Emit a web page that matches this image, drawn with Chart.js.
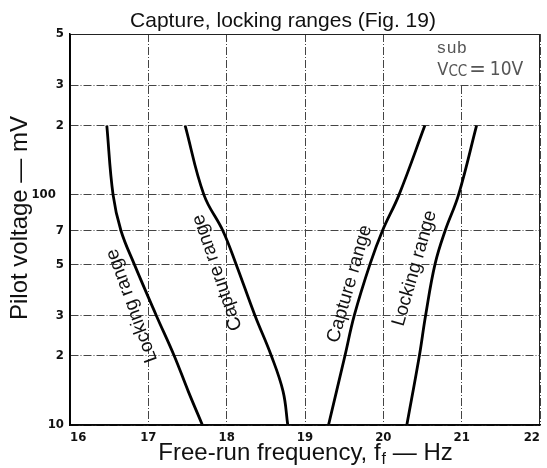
<!DOCTYPE html>
<html>
<head>
<meta charset="utf-8">
<script src="https://cdn.jsdelivr.net/npm/chart.js@4.4.1/dist/chart.umd.min.js"></script>
<style>
  html, body { margin: 0; padding: 0; background: #fff; }
</style>
</head>
<body>
<canvas id="chart" width="547" height="468"></canvas>
<script>
// curves, top (200 mV) to bottom (10 mV)
const lockLeftX = [16.47, 16.55, 16.65, 16.82, 17.10, 17.33, 17.51, 17.69];
const lockLeftY = [200, 100, 70, 50, 30, 20, 14, 10];
const capLeftX = [17.47, 17.71, 17.95, 18.12, 18.36, 18.57, 18.72, 18.78];
const capLeftY = [200, 100, 70, 50, 30, 20, 14, 10];
const capRightX = [20.53, 20.20, 19.99, 19.83, 19.63, 19.51, 19.30];
const capRightY = [200, 100, 70, 50, 30, 20, 10];
const lockRightX = [21.19, 20.96, 20.79, 20.66, 20.54, 20.46, 20.30];
const lockRightY = [200, 100, 70, 50, 30, 20, 10];

const yTickValues = [10, 20, 30, 50, 70, 100, 200, 300, 500];
const yTickLabels = ["10", "2", "3", "5", "7", "100\u2007", "2", "3", "5"];
const xTickValues = [16, 17, 18, 19, 20, 21, 22];

const narrow = '"Liberation Sans Narrow", "Arial Narrow", "DejaVu Sans Condensed", "Liberation Sans", sans-serif';
const sans = '"Liberation Sans", Arial, sans-serif';

const toPoints = (xs, ys) => xs.map((v, i) => ({ x: v, y: ys[i] }));

const curveLabels = [
  { text: "Locking range", x: 16.79, y: 33, angle: -110 },
  { text: "Capture range", x: 17.88, y: 46, angle: -109 },
  { text: "Capture range", x: 19.57, y: 41, angle: -74 },
  { text: "Locking range", x: 20.40, y: 48, angle: -74 },
];

const decorations = {
  id: "decorations",
  beforeDatasetsDraw(chart) {
    const { ctx, scales: { x, y }, chartArea: a } = chart;
    // boxed note in the top right cell
    const bx = x.getPixelForValue(20);
    const by = y.getPixelForValue(300);
    ctx.save();
    ctx.fillStyle = "#fff";
    ctx.fillRect(bx + 1, a.top + 1, a.right - bx - 2, by - a.top - 2);
    ctx.restore();
  },
  afterDraw(chart) {
    const { ctx, scales: { x, y }, chartArea: a } = chart;
    ctx.save();
    // frame
    ctx.strokeStyle = "#222";
    ctx.lineWidth = 1;
    ctx.strokeRect(a.left + 0.5, a.top + 0.5, a.right - a.left - 1, a.bottom - a.top - 1);
    ctx.strokeStyle = "#000";
    ctx.lineWidth = 1.5;
    ctx.beginPath();
    ctx.moveTo(a.left, a.top);
    ctx.lineTo(a.left, a.bottom);
    ctx.lineTo(a.right, a.bottom);
    ctx.stroke();

    ctx.fillStyle = "#111";
    // title
    ctx.font = "21px " + sans;
    ctx.textAlign = "center";
    ctx.textBaseline = "alphabetic";
    ctx.fillText("Capture, locking ranges (Fig. 19)", 283, 27);

    // y axis title
    ctx.save();
    ctx.translate(27, 218);
    ctx.rotate(-Math.PI / 2);
    ctx.font = "24px " + sans;
    ctx.fillText("Pilot voltage \u2014 mV", 0, 0);
    ctx.restore();

    // x axis title with subscript
    const big = "24px " + sans, small = "16px " + sans;
    const p1 = "Free-run frequency, f", p2 = "f", p3 = " \u2014 Hz";
    ctx.font = big; const w1 = ctx.measureText(p1).width, w3 = ctx.measureText(p3).width;
    ctx.font = small; const w2 = ctx.measureText(p2).width;
    let sx = (a.left + a.right) / 2 - (w1 + w2 + w3) / 2;
    const base = 460;
    ctx.textAlign = "left";
    ctx.font = big; ctx.fillText(p1, sx, base); sx += w1;
    ctx.font = small; ctx.fillText(p2, sx + 1, base + 4); sx += w2 + 1;
    ctx.font = big; ctx.fillText(p3, sx, base);

    // curve labels
    ctx.font = "19px " + sans;
    ctx.textAlign = "center";
    ctx.textBaseline = "middle";
    curveLabels.forEach(l => {
      ctx.save();
      ctx.translate(x.getPixelForValue(l.x), y.getPixelForValue(l.y));
      ctx.rotate(l.angle * Math.PI / 180);
      ctx.fillText(l.text, 0, 0);
      ctx.restore();
    });

    // note
    const bx = x.getPixelForValue(20);
    ctx.fillStyle = "#555";
    ctx.textAlign = "left";
    ctx.textBaseline = "alphabetic";
    ctx.font = "17px \"Liberation Mono\", monospace";
    ctx.fillText("sub", bx + 53, a.top + 19);
    let vx = bx + 54;
    ctx.font = "18px " + narrow;
    ctx.fillText("V", vx, a.top + 41); vx += ctx.measureText("V").width;
    ctx.font = "15px " + narrow;
    ctx.fillText("CC", vx, a.top + 42); vx += ctx.measureText("CC").width + 2;
    ctx.font = "22px " + narrow;
    ctx.fillText("=", vx, a.top + 42); vx += ctx.measureText("=").width + 4;
    ctx.font = "19px " + narrow;
    ctx.fillText("10V", vx, a.top + 41);
    ctx.restore();
  },
};

const lineStyle = { borderColor: "#000", borderWidth: 2.8, pointRadius: 0, showLine: true, tension: 0.4, fill: false };

new Chart(document.getElementById("chart"), {
  type: "scatter",
  data: {
    datasets: [
      { ...lineStyle, label: "Locking range (low)", data: toPoints(lockLeftX, lockLeftY) },
      { ...lineStyle, label: "Capture range (low)", data: toPoints(capLeftX, capLeftY) },
      { ...lineStyle, label: "Capture range (high)", data: toPoints(capRightX, capRightY) },
      { ...lineStyle, label: "Locking range (high)", data: toPoints(lockRightX, lockRightY) },
    ],
  },
  options: {
    responsive: false,
    animation: false,
    devicePixelRatio: 1,
    layout: { padding: { left: 0, right: 7, top: 34, bottom: 0 } },
    scales: {
      x: {
        type: "linear",
        min: 16,
        max: 22,
        afterBuildTicks: s => { s.ticks = xTickValues.map(v => ({ value: v })); },
        afterFit: s => { s.height = 43; },
        ticks: { color: "#111", font: { family: narrow, size: 13, weight: "bold" }, padding: 5, maxRotation: 0, align: "inner" },
        grid: { color: "#444", lineWidth: 1, drawTicks: false },
        border: { display: true, color: "#000", width: 1.5, dash: [8, 2, 1, 2] },
      },
      y: {
        type: "logarithmic",
        min: 10,
        max: 500,
        afterBuildTicks: s => { s.ticks = yTickValues.map(v => ({ value: v })); },
        afterFit: s => { s.width = 70; },
        ticks: {
          color: "#111",
          font: { family: narrow, size: 13, weight: "bold" },
          padding: 6,
          callback: v => { const i = yTickValues.indexOf(v); return i >= 0 ? yTickLabels[i] : ""; },
        },
        grid: { color: "#444", lineWidth: 1, drawTicks: false },
        border: { display: true, color: "#000", width: 1.5, dash: [8, 2, 1, 2] },
      },
    },
    plugins: {
      legend: { display: false },
      tooltip: { enabled: false },
      title: { display: false },
    },
  },
  plugins: [decorations],
});
</script>
</body>
</html>
